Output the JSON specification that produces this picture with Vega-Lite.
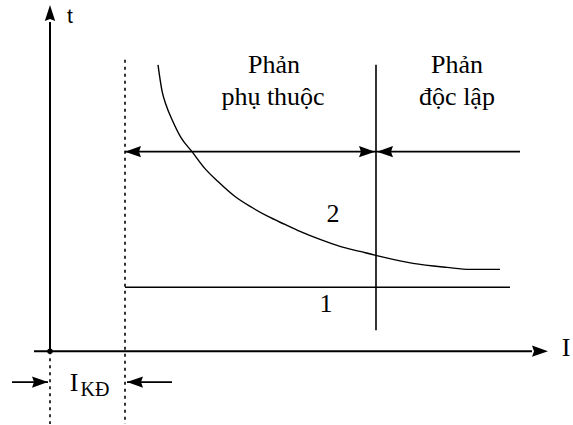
{
  "$schema": "https://vega.github.io/schema/vega-lite/v6.json",
  "width": 573,
  "height": 425,
  "padding": 0,
  "autosize": {"type": "fit", "contains": "padding"},
  "background": "white",
  "config": {"view": {"stroke": null}},
  "datasets": {
    "axes": [
      {"I1": 0, "I2": 0, "t1": 0, "t2": 330},
      {"I1": -16, "I2": 482, "t1": 0, "t2": 0}
    ],
    "solid": [
      {"I1": 75, "I2": 460, "t1": 64, "t2": 64},
      {"I1": 326, "I2": 326, "t1": 287, "t2": 21},
      {"I1": 75, "I2": 470, "t1": 200, "t2": 200},
      {"I1": -38, "I2": -2, "t1": -31, "t2": -31},
      {"I1": 77, "I2": 122, "t1": -31, "t2": -31}
    ],
    "dotted": [
      {"I1": 0, "I2": 0, "t1": 0, "t2": -73},
      {"I1": 75, "I2": 75, "t1": 292, "t2": -73}
    ],
    "curve": [
      {"I": 108, "t": 287}, {"I": 112, "t": 261}, {"I": 116, "t": 247},
      {"I": 123, "t": 230}, {"I": 131, "t": 214}, {"I": 142, "t": 200},
      {"I": 155, "t": 183}, {"I": 168, "t": 170}, {"I": 185, "t": 155},
      {"I": 202, "t": 144}, {"I": 218, "t": 135}, {"I": 235, "t": 127},
      {"I": 250, "t": 120}, {"I": 270, "t": 112}, {"I": 290, "t": 105},
      {"I": 310, "t": 100}, {"I": 326, "t": 96}, {"I": 363, "t": 88},
      {"I": 397, "t": 84}, {"I": 420, "t": 82}, {"I": 450, "t": 82}
    ],
    "arrows": [
      {"I": 0, "t": 339, "dir": "up"},
      {"I": 490, "t": 0, "dir": "right"},
      {"I": 83, "t": 200, "dir": "left"},
      {"I": 317, "t": 200, "dir": "right"},
      {"I": 335, "t": 200, "dir": "left"},
      {"I": -10, "t": -31, "dir": "right"},
      {"I": 85, "t": -31, "dir": "left"}
    ],
    "origin": [{"I": 0, "t": 0}],
    "bigtext": [
      {"I": 224, "t": 279, "label": "Phản"},
      {"I": 223, "t": 247, "label": "phụ thuộc"},
      {"I": 407, "t": 279, "label": "Phản"},
      {"I": 407, "t": 247, "label": "độc lập"},
      {"I": 283, "t": 129, "label": "2"},
      {"I": 276, "t": 39, "label": "1"},
      {"I": 516, "t": -5, "label": "I"},
      {"I": 24, "t": -40, "label": "I"}
    ],
    "subtext": [{"I": 45, "t": -45, "label": "KĐ"}],
    "ttext": [{"I": 17, "t": 329, "label": "t"}]
  },
  "encoding": {},
  "layer": [
    {
      "data": {"name": "axes"},
      "mark": {"type": "rule", "color": "black", "strokeWidth": 2},
      "encoding": {
        "x": {"field": "I1", "type": "quantitative", "scale": {"domain": [-50, 523], "nice": false, "zero": false}, "axis": null},
        "x2": {"field": "I2"},
        "y": {"field": "t1", "type": "quantitative", "scale": {"domain": [-73, 352], "nice": false, "zero": false}, "axis": null},
        "y2": {"field": "t2"}
      }
    },
    {
      "data": {"name": "solid"},
      "mark": {"type": "rule", "color": "black", "strokeWidth": 1.6},
      "encoding": {
        "x": {"field": "I1", "type": "quantitative"},
        "x2": {"field": "I2"},
        "y": {"field": "t1", "type": "quantitative"},
        "y2": {"field": "t2"}
      }
    },
    {
      "data": {"name": "dotted"},
      "mark": {"type": "rule", "color": "black", "strokeWidth": 1.6, "strokeDash": [3, 4]},
      "encoding": {
        "x": {"field": "I1", "type": "quantitative"},
        "x2": {"field": "I2"},
        "y": {"field": "t1", "type": "quantitative"},
        "y2": {"field": "t2"}
      }
    },
    {
      "data": {"name": "curve"},
      "mark": {"type": "line", "color": "black", "strokeWidth": 1.4, "interpolate": "monotone"},
      "encoding": {
        "x": {"field": "I", "type": "quantitative"},
        "y": {"field": "t", "type": "quantitative"},
        "order": {"field": "I", "type": "quantitative"}
      }
    },
    {
      "data": {"name": "arrows"},
      "mark": {"type": "point", "filled": true, "color": "black", "opacity": 1, "size": 256, "strokeWidth": 0},
      "encoding": {
        "x": {"field": "I", "type": "quantitative"},
        "y": {"field": "t", "type": "quantitative"},
        "shape": {
          "field": "dir", "type": "nominal", "legend": null,
          "scale": {
            "domain": ["right", "left", "up"],
            "range": [
              "M1,0L-1,-0.7L-0.75,0L-1,0.7Z",
              "M-1,0L1,-0.7L0.75,0L1,0.7Z",
              "M0,-1L-0.65,1L0,0.75L0.65,1Z"
            ]
          }
        }
      }
    },
    {
      "data": {"name": "origin"},
      "mark": {"type": "point", "filled": true, "color": "black", "opacity": 1, "size": 30, "shape": "circle"},
      "encoding": {
        "x": {"field": "I", "type": "quantitative"},
        "y": {"field": "t", "type": "quantitative"}
      }
    },
    {
      "data": {"name": "bigtext"},
      "mark": {"type": "text", "font": "Liberation Serif", "fontSize": 26, "color": "black", "align": "center", "baseline": "alphabetic"},
      "encoding": {
        "x": {"field": "I", "type": "quantitative"},
        "y": {"field": "t", "type": "quantitative"},
        "text": {"field": "label"}
      }
    },
    {
      "data": {"name": "subtext"},
      "mark": {"type": "text", "font": "Liberation Serif", "fontSize": 20, "color": "black", "align": "center", "baseline": "alphabetic"},
      "encoding": {
        "x": {"field": "I", "type": "quantitative"},
        "y": {"field": "t", "type": "quantitative"},
        "text": {"field": "label"}
      }
    },
    {
      "data": {"name": "ttext"},
      "mark": {"type": "text", "font": "Liberation Sans", "fontSize": 21, "color": "black", "align": "left", "baseline": "alphabetic"},
      "encoding": {
        "x": {"field": "I", "type": "quantitative"},
        "y": {"field": "t", "type": "quantitative"},
        "text": {"field": "label"}
      }
    }
  ]
}
